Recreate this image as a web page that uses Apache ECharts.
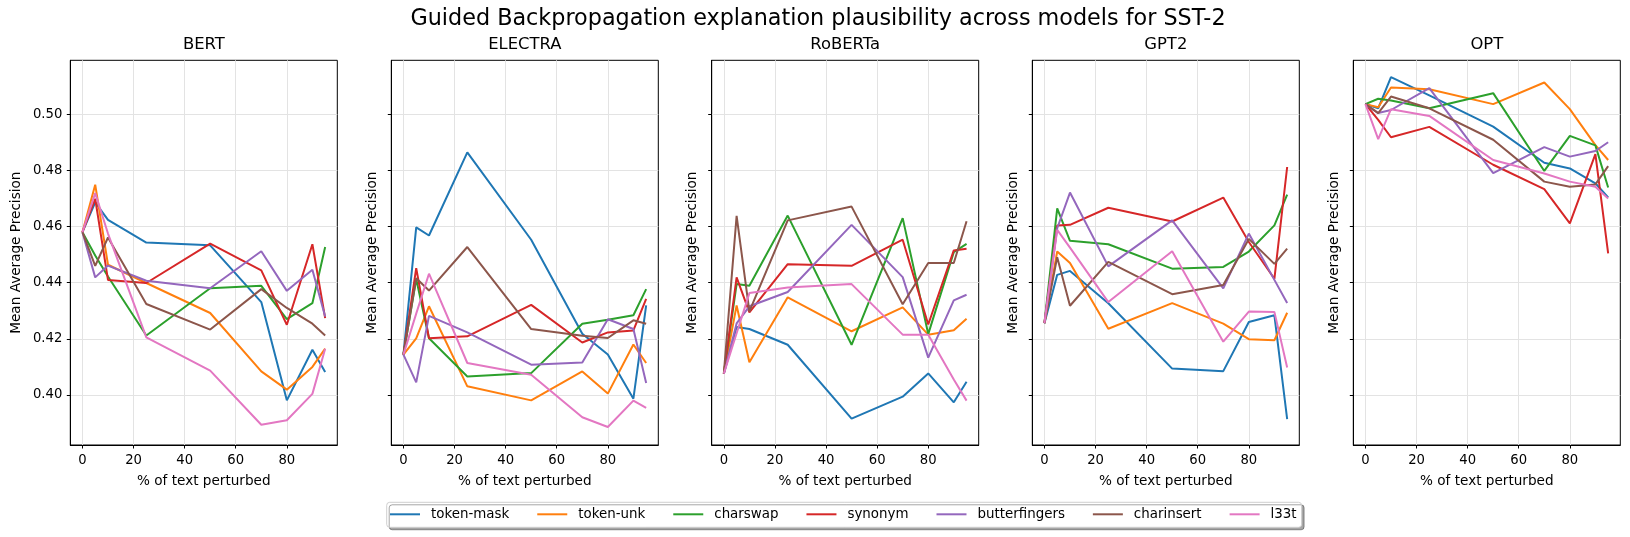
<!DOCTYPE html>
<html><head><meta charset="utf-8">
<script src="https://cdn.jsdelivr.net/npm/echarts@6/dist/echarts.min.js"></script>
<style>html,body{margin:0;padding:0;background:#fff}#c{width:1630px;height:537px}</style>
</head><body><div id="c"></div>
<script>
// ---- data ----
const percents = [0, 5, 10, 25, 50, 70, 80, 90, 95];
const models = ['BERT', 'ELECTRA', 'RoBERTa', 'GPT2', 'OPT'];
const methods = ['token-mask', 'token-unk', 'charswap', 'synonym', 'butterfingers', 'charinsert', 'l33t'];
const xTickValues = [0, 20, 40, 60, 80];
const yTickValues = [0.40, 0.42, 0.44, 0.46, 0.48, 0.50];

const bertTokenMask    = [0.458, 0.4686, 0.4624, 0.4543, 0.4533, 0.4331, 0.3981, 0.4161, 0.4082];
const bertTokenUnk     = [0.458, 0.4749, 0.4464, 0.4399, 0.4292, 0.4084, 0.4019, 0.4100, 0.4165];
const bertCharswap     = [0.458, 0.4497, 0.4422, 0.4212, 0.4380, 0.4389, 0.4270, 0.4327, 0.4527];
const bertSynonym      = [0.458, 0.4699, 0.4410, 0.4399, 0.4539, 0.4444, 0.4250, 0.4537, 0.4274];
const bertButterfingers= [0.458, 0.4419, 0.4461, 0.4407, 0.4380, 0.4512, 0.4371, 0.4446, 0.4280];
const bertCharinsert   = [0.458, 0.4460, 0.4561, 0.4324, 0.4233, 0.4377, 0.4310, 0.4254, 0.4212];
const bertL33t         = [0.458, 0.4719, 0.4575, 0.4205, 0.4087, 0.3894, 0.3910, 0.4004, 0.4165];

const electraTokenMask    = [0.4144, 0.4597, 0.4568, 0.4864, 0.4553, 0.4218, 0.4144, 0.3987, 0.4319];
const electraTokenUnk     = [0.4144, 0.4202, 0.4316, 0.4031, 0.3981, 0.4084, 0.4005, 0.4180, 0.4114];
const electraCharswap     = [0.4144, 0.4413, 0.4202, 0.4066, 0.4078, 0.4254, 0.4268, 0.4284, 0.4377];
const electraSynonym      = [0.4144, 0.4452, 0.4202, 0.4209, 0.4321, 0.4187, 0.4223, 0.4230, 0.4342];
const electraButterfingers= [0.4144, 0.4045, 0.4282, 0.4223, 0.4108, 0.4116, 0.4270, 0.4235, 0.4043];
const electraCharinsert   = [0.4144, 0.4416, 0.4372, 0.4527, 0.4235, 0.4211, 0.4203, 0.4266, 0.4254];
const electraL33t         = [0.4144, 0.4290, 0.4432, 0.4114, 0.4072, 0.3921, 0.3886, 0.3980, 0.3954];

const robertaTokenMask    = [0.4076, 0.4242, 0.4235, 0.4179, 0.3916, 0.3994, 0.4077, 0.3974, 0.4047];
const robertaTokenUnk     = [0.4076, 0.4319, 0.4117, 0.4348, 0.4227, 0.4312, 0.4215, 0.4231, 0.4272];
const robertaCharswap     = [0.4076, 0.4395, 0.4389, 0.4639, 0.4179, 0.4630, 0.4217, 0.4509, 0.4538];
const robertaSynonym      = [0.4076, 0.4419, 0.4294, 0.4466, 0.4460, 0.4553, 0.4251, 0.4515, 0.4521];
const robertaButterfingers= [0.4076, 0.4255, 0.4316, 0.4367, 0.4606, 0.4420, 0.4133, 0.4337, 0.4357];
const robertaCharinsert   = [0.4076, 0.4638, 0.4298, 0.4622, 0.4671, 0.4323, 0.4470, 0.4470, 0.4619];
const robertaL33t         = [0.4076, 0.4220, 0.4363, 0.4383, 0.4395, 0.4215, 0.4215, 0.4055, 0.3980];

const gpt2TokenMask    = [0.4256, 0.4428, 0.4442, 0.4327, 0.4094, 0.4085, 0.4260, 0.4284, 0.3914];
const gpt2TokenUnk     = [0.4256, 0.4511, 0.4470, 0.4236, 0.4327, 0.4254, 0.4199, 0.4195, 0.4293];
const gpt2Charswap     = [0.4256, 0.4665, 0.4549, 0.4537, 0.4450, 0.4456, 0.4511, 0.4604, 0.4714];
const gpt2Synonym      = [0.4256, 0.4604, 0.4606, 0.4667, 0.4618, 0.4703, 0.4545, 0.4414, 0.4812];
const gpt2Butterfingers= [0.4256, 0.4594, 0.4721, 0.4458, 0.4622, 0.4380, 0.4575, 0.4410, 0.4328];
const gpt2Charinsert   = [0.4256, 0.4491, 0.4318, 0.4474, 0.4359, 0.4392, 0.4556, 0.4467, 0.4521];
const gpt2L33t         = [0.4256, 0.4588, 0.4525, 0.4331, 0.4512, 0.4190, 0.4297, 0.4296, 0.4098];

const optTokenMask    = [0.5036, 0.5021, 0.5132, 0.5067, 0.4956, 0.4827, 0.4807, 0.4754, 0.4704];
const optTokenUnk     = [0.5036, 0.5025, 0.5095, 0.5089, 0.5036, 0.5113, 0.5018, 0.4890, 0.4837];
const optCharswap     = [0.5036, 0.5055, 0.5049, 0.5021, 0.5075, 0.4798, 0.4923, 0.4889, 0.4739];
const optSynonym      = [0.5036, 0.4980, 0.4918, 0.4955, 0.4820, 0.4733, 0.4611, 0.4858, 0.4504];
const optButterfingers= [0.5036, 0.5004, 0.5015, 0.5093, 0.4790, 0.4883, 0.4849, 0.4869, 0.4900];
const optCharinsert   = [0.5036, 0.5004, 0.5063, 0.5021, 0.4909, 0.4760, 0.4742, 0.4750, 0.4815];
const optL33t         = [0.5036, 0.4911, 0.5018, 0.4994, 0.4837, 0.4789, 0.4760, 0.4742, 0.4700];

const seriesByModel = [
  [bertTokenMask, bertTokenUnk, bertCharswap, bertSynonym, bertButterfingers, bertCharinsert, bertL33t],
  [electraTokenMask, electraTokenUnk, electraCharswap, electraSynonym, electraButterfingers, electraCharinsert, electraL33t],
  [robertaTokenMask, robertaTokenUnk, robertaCharswap, robertaSynonym, robertaButterfingers, robertaCharinsert, robertaL33t],
  [gpt2TokenMask, gpt2TokenUnk, gpt2Charswap, gpt2Synonym, gpt2Butterfingers, gpt2Charinsert, gpt2L33t],
  [optTokenMask, optTokenUnk, optCharswap, optSynonym, optButterfingers, optCharinsert, optL33t]
];

// ---- styling ----
const colors = ['#1f77b4', '#ff7f0e', '#2ca02c', '#d62728', '#9467bd', '#8c564b', '#e377c2'];
const FONT = 'DejaVu Sans';
const panelLefts = [70.3, 391.3, 711.7, 1032.3, 1353.3];
const panelWidth = 267;
const panelTop = 60.3;
const panelHeight = 384.7;

const grids = [], xAxes = [], yAxes = [], series = [], titles = [];
titles.push({
  text: 'Guided Backpropagation explanation plausibility across models for SST-2',
  left: 818, top: 8.5, textAlign: 'center', padding: 0,
  textStyle: {fontFamily: FONT, fontSize: 22.3, fontWeight: 'normal', color: '#000'}
});
models.forEach((m, i) => {
  grids.push({left: panelLefts[i], top: panelTop, width: panelWidth, height: panelHeight,
    show: true, borderColor: '#000', borderWidth: 1, backgroundColor: 'transparent'});
  titles.push({text: m, left: panelLefts[i] + panelWidth / 2, top: 37, textAlign: 'center', padding: 0,
    textStyle: {fontFamily: FONT, fontSize: 16.4, fontWeight: 'normal', color: '#000'}});
  xAxes.push({
    type: 'value', gridIndex: i, min: -4.75, max: 99.75, splitNumber: 5,
    name: '% of text perturbed', nameLocation: 'middle', nameGap: 29,
    nameTextStyle: {fontFamily: FONT, fontSize: 13.6, color: '#000'},
    axisLine: {show: true, onZero: false, lineStyle: {color: '#000', width: 1}},
    axisTick: {show: true, inside: false, length: 3.5, lineStyle: {color: '#000', width: 1}, customValues: xTickValues},
    axisLabel: {show: true, margin: 9.5, fontFamily: FONT, fontSize: 13.2, color: '#000',
      customValues: xTickValues,
      formatter: v => String(Math.round(v))},
    splitLine: {show: true, lineStyle: {color: '#e3e3e3', width: 1}}
  });
  yAxes.push({
    type: 'value', gridIndex: i, min: 0.3822, max: 0.5192, splitNumber: 7,
    name: 'Mean Average Precision', nameLocation: 'middle', nameGap: i === 0 ? 46.5 : 12.3,
    nameTextStyle: {fontFamily: FONT, fontSize: 13.6, color: '#000'},
    axisLine: {show: true, onZero: false, lineStyle: {color: '#000', width: 1}},
    axisTick: {show: true, inside: false, length: 3.5, lineStyle: {color: '#000', width: 1}, customValues: yTickValues},
    axisLabel: {show: i === 0, margin: 8, fontFamily: FONT, fontSize: 13.2, color: '#000',
      customValues: yTickValues,
      formatter: v => v.toFixed(2)},
    splitLine: {show: true, lineStyle: {color: '#e3e3e3', width: 1}}
  });
  methods.forEach((meth, k) => {
    series.push({
      type: 'line', name: meth, xAxisIndex: i, yAxisIndex: i,
      data: percents.map((p, j) => [p, seriesByModel[i][k][j]]),
      symbol: 'none', showSymbol: false, smooth: false,
      color: colors[k],
      lineStyle: {color: colors[k], width: 2},
      emphasis: {disabled: true}, z: 3
    });
  });
});

const chart = echarts.init(document.getElementById('c'), null, {renderer: 'canvas', width: 1630, height: 537});
chart.setOption({
  animation: false,
  backgroundColor: '#fff',
  title: titles,
  grid: grids,
  xAxis: xAxes,
  yAxis: yAxes,
  legend: {
    data: methods, left: 386.7, top: 502.3, orient: 'horizontal',
    icon: 'rect', itemWidth: 30, itemHeight: 2, itemGap: 28,
    padding: [4, 5, 5, 3.3],
    backgroundColor: '#fff', borderColor: '#cfcfcf', borderWidth: 1, borderRadius: 3,
    shadowColor: 'rgba(0,0,0,0.35)', shadowBlur: 0, shadowOffsetX: 2.5, shadowOffsetY: 2.5,
    textStyle: {fontFamily: FONT, fontSize: 13.4, color: '#000', lineHeight: 16, padding: [0, 0, 0, 6]},
    selectedMode: false
  },
  series: series
});
</script></body></html>
